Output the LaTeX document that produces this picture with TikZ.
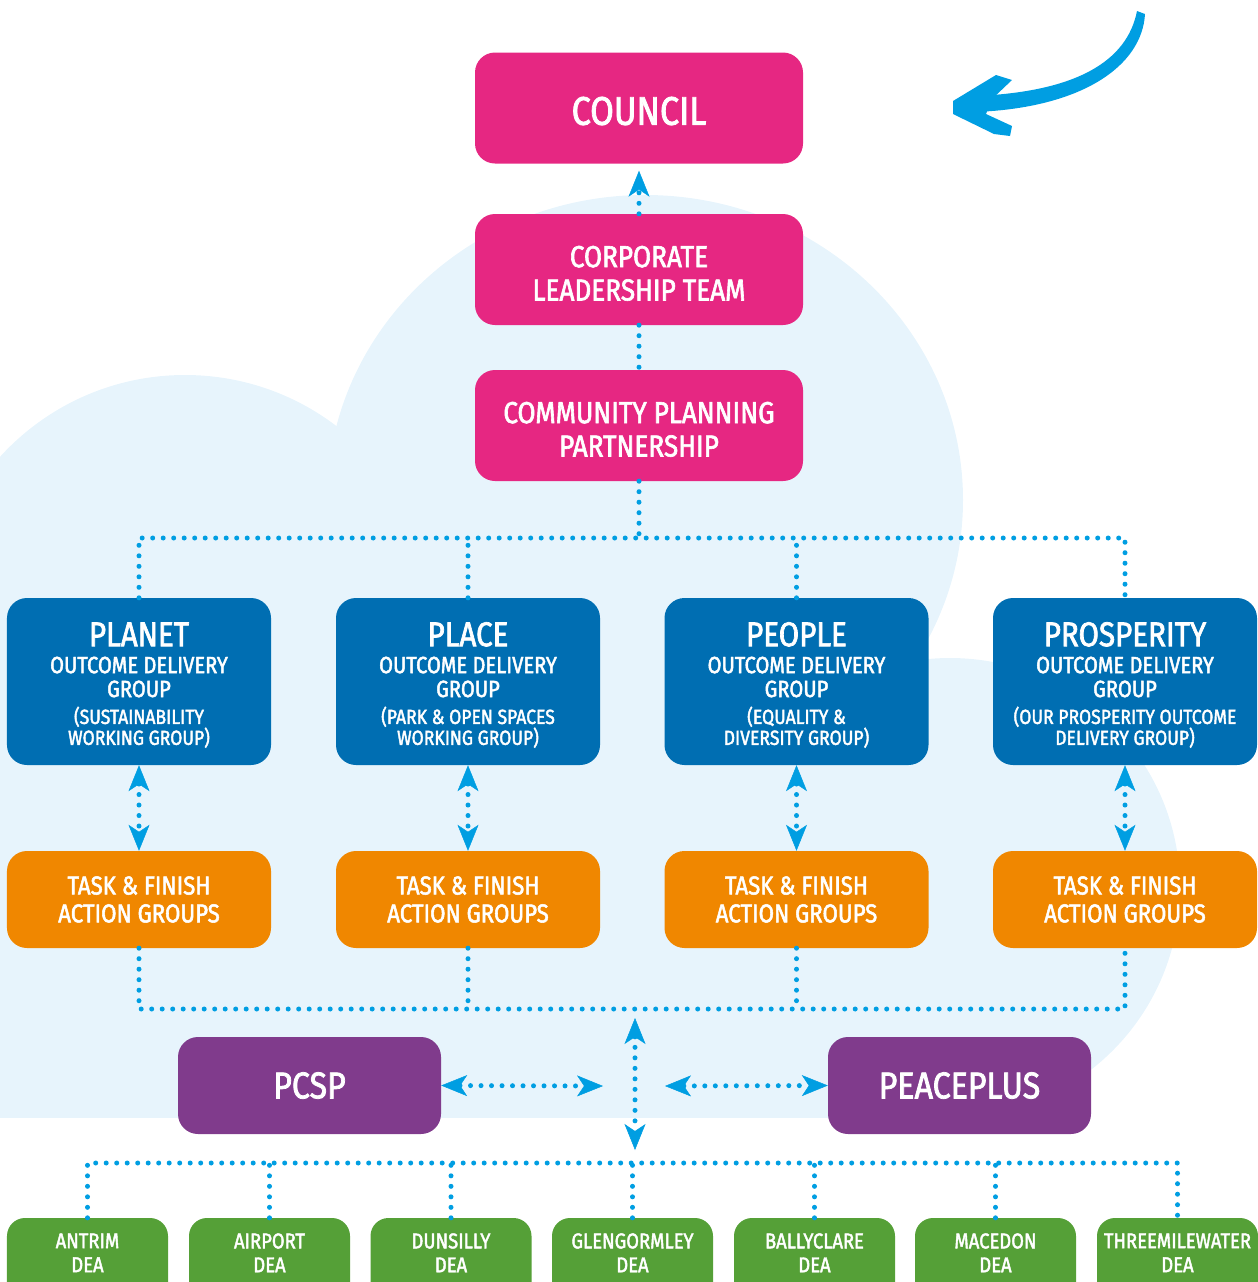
\documentclass[tikz,border=0pt]{standalone}
\usepackage{fontspec}
\setmainfont{Fira Sans}[FakeStretch=0.86,FakeBold=2]
\usetikzlibrary{arrows.meta}
\definecolor{cpink}{RGB}{230,39,130}
\definecolor{cblue}{RGB}{0,110,178}
\definecolor{corange}{RGB}{240,135,0}
\definecolor{cpurple}{RGB}{128,59,140}
\definecolor{cgreen}{RGB}{85,160,55}
\definecolor{ccyan}{RGB}{0,158,226}
\definecolor{ccloud}{RGB}{231,244,252}
\begin{document}
\begin{tikzpicture}[x=1bp,y=-1bp,
    box/.style={rounded corners=20bp,text=white,align=center,inner sep=0pt},
    pinkbox/.style={box,fill=cpink,minimum width=328bp,minimum height=111bp,font=\fontsize{30.5}{33.5}\selectfont},
    bluebox/.style={box,fill=cblue,minimum width=264bp,minimum height=167bp,font=\fontsize{23.5}{24}\selectfont},
    tfbox/.style={box,fill=corange,minimum width=264bp,minimum height=97bp,font=\fontsize{26}{28}\selectfont},
    purplebox/.style={box,fill=cpurple,minimum width=263bp,minimum height=97bp,font=\fontsize{37.5}{38}\selectfont},
    deabox/.style={box,rounded corners=18bp,fill=cgreen,minimum width=161bp,minimum height=100bp},
    dealabel/.style={text=white,align=center,inner sep=0pt,font=\fontsize{21.5}{24}\selectfont},
    dotline/.style={draw=ccyan,line width=5bp,line cap=round,dash pattern=on 0pt off 10.5bp},
    >={Stealth[length=26bp,width=21bp,inset=7bp,line width=0.5bp]}]
    \useasboundingbox (0,0) rectangle (1258,1282);
    \clip (0,0) rectangle (1258,1282);
    % cloud
    \fill[ccloud] (645,500) ellipse (318 and 305);
    \fill[ccloud] (185,625) circle (250);
    \fill[ccloud] (950,888) circle (230);
    \fill[ccloud] (0,700) rectangle (950,1118);
    % hand drawn arrow
    \fill[ccyan] (1137,11) .. controls (1127,62) and (1075,92) .. (975,96) -- (975,112) .. controls (1082,108) and (1142,66) .. (1145,14) -- cycle;
    \fill[ccyan] (953,101) -- (996,75) -- (1012,80) -- (992,99) -- (986,114) -- (1012,126) -- (1010,136) -- (994,134) -- (953,114) -- cycle;

    \node[pinkbox,font=\fontsize{40}{40}\selectfont] (council) at (639,108) {\rule{0pt}{34bp}COUNCIL};
    \node[pinkbox] (clt) at (639,269.5) {\rule{0pt}{29bp}CORPORATE\\LEADERSHIP TEAM};
    \node[pinkbox] (cpp) at (639,425.5) {\rule{0pt}{29bp}COMMUNITY PLANNING\\PARTNERSHIP};

    \node[bluebox] (planet) at (139,681.5) {\rule{0pt}{31bp}{\fontsize{34.5}{34}\selectfont PLANET}\\[3bp]OUTCOME DELIVERY\\GROUP\\[3bp]{\fontsize{20.5}{20}\selectfont (SUSTAINABILITY}\\[-3bp]{\fontsize{20.5}{20}\selectfont WORKING GROUP)}};
    \node[bluebox] (place) at (468,681.5) {\rule{0pt}{31bp}{\fontsize{34.5}{34}\selectfont PLACE}\\[3bp]OUTCOME DELIVERY\\GROUP\\[3bp]{\fontsize{20.5}{20}\selectfont (PARK \& OPEN SPACES}\\[-3bp]{\fontsize{20.5}{20}\selectfont WORKING GROUP)}};
    \node[bluebox] (people) at (796.5,681.5) {\rule{0pt}{31bp}{\fontsize{34.5}{34}\selectfont PEOPLE}\\[3bp]OUTCOME DELIVERY\\GROUP\\[3bp]{\fontsize{20.5}{20}\selectfont (EQUALITY \&}\\[-3bp]{\fontsize{20.5}{20}\selectfont DIVERSITY GROUP)}};
    \node[bluebox] (prosperity) at (1125,681.5) {\rule{0pt}{31bp}{\fontsize{34.5}{34}\selectfont PROSPERITY}\\[3bp]OUTCOME DELIVERY\\GROUP\\[3bp]{\fontsize{20.5}{20}\selectfont (OUR PROSPERITY OUTCOME}\\[-3bp]{\fontsize{20.5}{20}\selectfont DELIVERY GROUP)}};

    \node[tfbox] (planettf) at (139,899.5) {TASK \& FINISH\\ACTION GROUPS};
    \node[tfbox] (placetf) at (468,899.5) {TASK \& FINISH\\ACTION GROUPS};
    \node[tfbox] (peopletf) at (796.5,899.5) {TASK \& FINISH\\ACTION GROUPS};
    \node[tfbox] (prosperitytf) at (1125,899.5) {TASK \& FINISH\\ACTION GROUPS};

    \node[purplebox] (pcsp) at (309.5,1085.5) {PCSP};
    \node[purplebox] (peaceplus) at (959.5,1085.5) {PEACEPLUS};

    \node[deabox] (antrim) at (87.5,1268) {};
    \node[deabox] (airport) at (269.5,1268) {};
    \node[deabox] (dunsilly) at (451,1268) {};
    \node[deabox] (glengormley) at (632.5,1268) {};
    \node[deabox] (ballyclare) at (814.5,1268) {};
    \node[deabox] (macedon) at (995.5,1268) {};
    \node[deabox] (threemile) at (1177.5,1268) {};
    \node[dealabel] (antrimlbl) at ([yshift=-35bp]antrim.north) {ANTRIM\\DEA};
    \node[dealabel] (airportlbl) at ([yshift=-35bp]airport.north) {AIRPORT\\DEA};
    \node[dealabel] (dunsillylbl) at ([yshift=-35bp]dunsilly.north) {DUNSILLY\\DEA};
    \node[dealabel] (glengormleylbl) at ([yshift=-35bp]glengormley.north) {GLENGORMLEY\\DEA};
    \node[dealabel] (ballyclarelbl) at ([yshift=-35bp]ballyclare.north) {BALLYCLARE\\DEA};
    \node[dealabel] (macedonlbl) at ([yshift=-35bp]macedon.north) {MACEDON\\DEA};
    \node[dealabel] (threemilelbl) at ([yshift=-35bp]threemile.north) {THREEMILEWATER\\DEA};

    \coordinate (topbus) at (639,538);
    \coordinate (lowbus) at (635,1009);
    \coordinate (hubtop) at (635,1018);
    \coordinate (hubbot) at (635,1150);
    \coordinate (pcspend) at (603,1086);
    \coordinate (peaceend) at (665,1086);
    \coordinate (deabus) at (635,1163);

    \draw[dotline,->] (clt.north) -- ([yshift=-7bp]council.south);
    \draw[dotline] (clt.south) -- (cpp.north);
    \draw[dotline] (cpp.south) -- (topbus);
    \draw[dotline] (planet.north) -- (planet.north |- topbus) -- (prosperity.north |- topbus) -- (prosperity.north);
    \draw[dotline] (place.north) -- (place.north |- topbus);
    \draw[dotline] (people.north) -- (people.north |- topbus);

    \draw[dotline,<->] (planet.south) -- (planettf.north);
    \draw[dotline,<->] (place.south) -- (placetf.north);
    \draw[dotline,<->] (people.south) -- (peopletf.north);
    \draw[dotline,<->] (prosperity.south) -- (prosperitytf.north);

    \draw[dotline] (planettf.south) -- (planettf.south |- lowbus) -- (prosperitytf.south |- lowbus) -- (prosperitytf.south);
    \draw[dotline] (placetf.south) -- (placetf.south |- lowbus);
    \draw[dotline] (peopletf.south) -- (peopletf.south |- lowbus);

    \draw[dotline,<->] (hubtop) -- (hubbot);
    \draw[dotline,<->] (pcsp.east) -- (pcspend);
    \draw[dotline,<->] (peaceend) -- (peaceplus.west);

    \draw[dotline] (antrim.north) -- (antrim.north |- deabus) -- (threemile.north |- deabus) -- (threemile.north);
    \draw[dotline] (airport.north) -- (airport.north |- deabus);
    \draw[dotline] (dunsilly.north) -- (dunsilly.north |- deabus);
    \draw[dotline] (glengormley.north) -- (glengormley.north |- deabus);
    \draw[dotline] (ballyclare.north) -- (ballyclare.north |- deabus);
    \draw[dotline] (macedon.north) -- (macedon.north |- deabus);
\end{tikzpicture}
\end{document}
